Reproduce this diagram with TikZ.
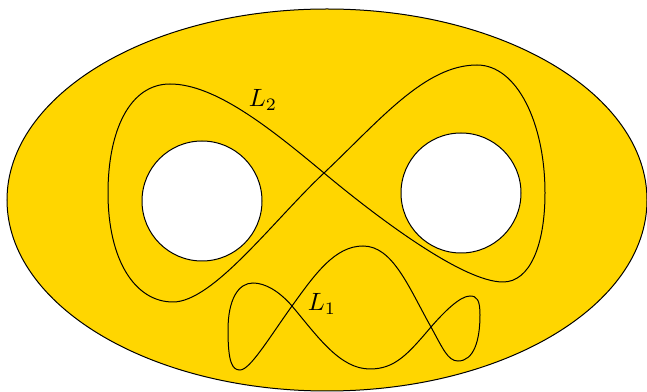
\documentclass[tikz,border=0pt]{standalone}
\begin{document}
\begin{tikzpicture}[x=0.4pt,y=-0.4pt,line width=0.4pt,
  curve/.style={draw=black},
  hole/.style={draw=black,fill=white},
  lbl/.style={inner sep=0pt}]
\definecolor{surf}{RGB}{255,214,0}
\useasboundingbox (0,0) rectangle (647,392);
\draw[fill=surf] (327,200) ellipse [x radius=320, y radius=191];
\draw[hole] (202,201) circle [radius=60];
\draw[hole] (461,193) circle [radius=60];
% L2
\coordinate (C) at (324,173);
\draw[curve] (C) .. controls (380,120) and (425,65) .. (477,65)
  .. controls (517,65) and (545,123) .. (545,193)
  .. controls (545,245) and (530,282) .. (503,282)
  .. controls (463,282) and (378,218) .. (C)
  .. controls (270,128) and (215,84) .. (170,84)
  .. controls (130,84) and (108,130) .. (108,193)
  .. controls (108,260) and (135,302) .. (173,302)
  .. controls (213,302) and (273,221) .. (C) -- cycle;
% L1
\coordinate (X1) at (292,306);
\coordinate (X2) at (431,327);
\draw[curve] (X1) .. controls (315,274) and (335,246) .. (363,246)
  .. controls (393,246) and (409,288) .. (X2)
  .. controls (443,349) and (448,361) .. (458,361)
  .. controls (474,361) and (480,340) .. (480,315)
  .. controls (480,300) and (477,296) .. (470,296)
  .. controls (460,296) and (444,312) .. (X2)
  .. controls (408,354) and (395,369) .. (370,369)
  .. controls (340,369) and (318,337) .. (X1)
  .. controls (279,291) and (265,283) .. (253,283)
  .. controls (238,283) and (228,300) .. (228,330)
  .. controls (228,362) and (232,370) .. (240,370)
  .. controls (250,370) and (269,338) .. (X1) -- cycle;
\node[lbl] (l2) at (263,100) {$L_2$};
\node[lbl] (l1) at (322,304) {$L_1$};
\end{tikzpicture}
\end{document}
